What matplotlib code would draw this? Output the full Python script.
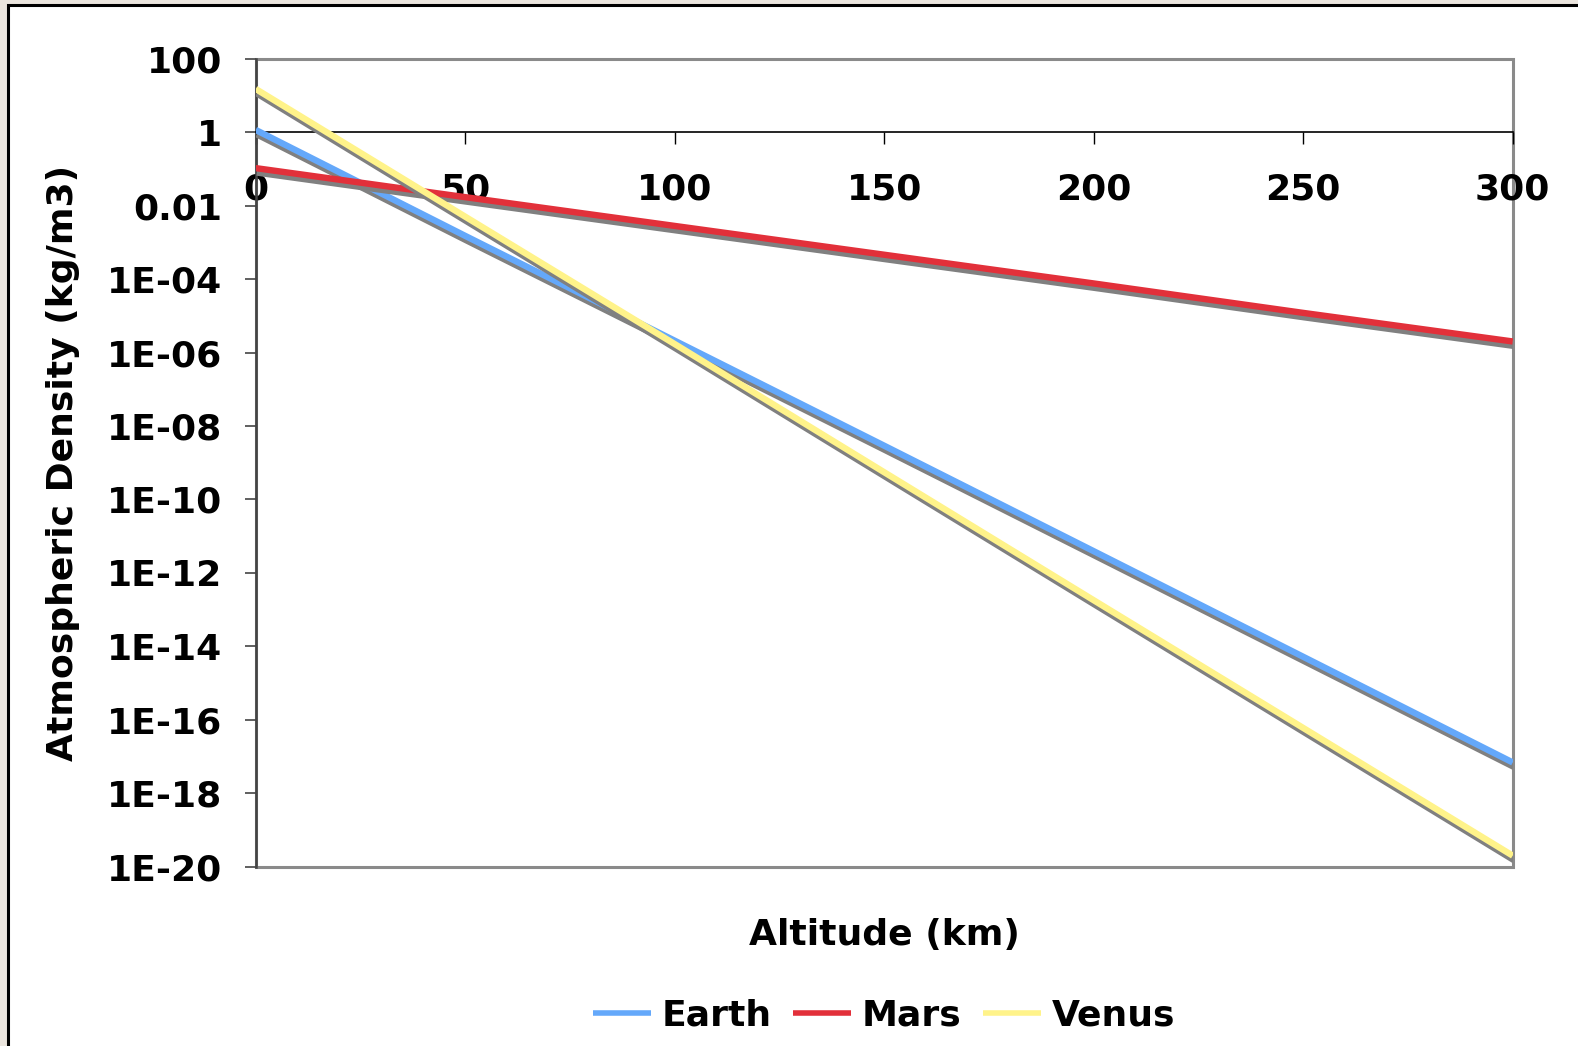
import matplotlib
matplotlib.use("Agg")
import matplotlib.pyplot as plt
import matplotlib.patheffects as pe
from matplotlib.patches import Rectangle
from matplotlib.ticker import FixedLocator, FixedFormatter, NullLocator

# --- DATA ---
altitude_km = [0, 50, 100, 150, 200, 250, 300]
earth = [1.15, 1.5e-3, 2.1e-6, 2.9e-9, 3.9e-12, 5.2e-15, 6.9e-18]
mars = [0.105, 0.017, 2.8e-3, 4.6e-4, 7.6e-5, 1.2e-5, 2.0e-6]
venus = [15, 5.0e-3, 1.7e-6, 5.5e-10, 1.8e-13, 6.0e-17, 2.0e-20]

series_names = ["Earth", "Mars", "Venus"]
series_colors = ["#64a8fa", "#e2303a", "#fff38a"]

y_ticks = [1e2, 1, 1e-2, 1e-4, 1e-6, 1e-8, 1e-10, 1e-12, 1e-14, 1e-16, 1e-18, 1e-20]
y_tick_labels = ["100", "1", "0.01", "1E-04", "1E-06", "1E-08", "1E-10",
                 "1E-12", "1E-14", "1E-16", "1E-18", "1E-20"]
x_ticks = [0, 50, 100, 150, 200, 250, 300]

plt.rcParams["font.family"] = "DejaVu Sans"
plt.rcParams["font.weight"] = "bold"
FS = 26

W, H = 1578, 1046
fig = plt.figure(figsize=(W / 100, H / 100), dpi=100, facecolor="#ebe5de")

# white chart area with black border
fig.patches.append(Rectangle((8 / W, -0.05), 1.1, 1 - 5 / H + 0.05, transform=fig.transFigure,
                             facecolor="white", edgecolor="black", linewidth=2.2, zorder=-5))

ax = fig.add_axes([255.7 / W, 1 - 866.7 / H, 1257 / W, 808 / H])
ax.set_facecolor("white")
ax.set_yscale("log")
ax.set_xlim(0, 300)
ax.set_ylim(1e-20, 100)

shadow = [pe.SimpleLineShadow(offset=(0.8, -3.2), shadow_color="#808080", alpha=1.0), pe.Normal()]
for name, vals, col in zip(series_names, [earth, mars, venus], series_colors):
    ax.plot(altitude_km, vals, color=col, lw=4.6, label=name, solid_capstyle="butt",
            path_effects=shadow, zorder=3)

# plot area border (grey), x axis crossing at y = 1
ax.add_patch(Rectangle((0, 0), 1, 1, transform=ax.transAxes, fill=False,
                       edgecolor="#8a8a8a", linewidth=2.2, zorder=1, clip_on=False))
for s in ["top", "right"]:
    ax.spines[s].set_visible(False)
ax.spines["bottom"].set_position(("data", 1))
ax.spines["bottom"].set_color("black")
ax.spines["bottom"].set_linewidth(1.2)
ax.spines["left"].set_color("#444444")
ax.spines["left"].set_linewidth(1.8)
ax.spines["left"].set_zorder(2)

ax.yaxis.set_major_locator(FixedLocator(y_ticks))
ax.yaxis.set_major_formatter(FixedFormatter(y_tick_labels))
ax.yaxis.set_minor_locator(NullLocator())
ax.set_xticks(x_ticks)
ax.set_xticklabels([str(v) for v in x_ticks])
ax.tick_params(axis="y", direction="out", length=8, width=1.2, pad=16, labelsize=FS, color="#444444")
ax.tick_params(axis="x", direction="out", length=8.5, width=1.0, pad=20.5, labelsize=FS)
for lbl in ax.get_xticklabels() + ax.get_yticklabels():
    lbl.set_fontweight("bold")

fig.text(63.5 / W, 1 - 463 / H, "Atmospheric Density (kg/m3)", rotation=90, ha="center",
         va="center", fontsize=FS, fontweight="bold")
fig.text(884 / W, 1 - 935 / H, "Altitude (km)", ha="center", va="center",
         fontsize=FS, fontweight="bold")

handles, labels = ax.get_legend_handles_labels()
leg = fig.legend(handles, labels, loc="center", bbox_to_anchor=(884 / W, 1 - 1016 / H), ncol=3,
                 frameon=False, handlelength=1.6, handletextpad=0.3,
                 columnspacing=0.6, prop={"weight": "bold", "size": FS})
for ln in leg.get_lines():
    ln.set_path_effects([])
    ln.set_linewidth(4)

fig.savefig("out.png", dpi=100, facecolor=fig.get_facecolor())
